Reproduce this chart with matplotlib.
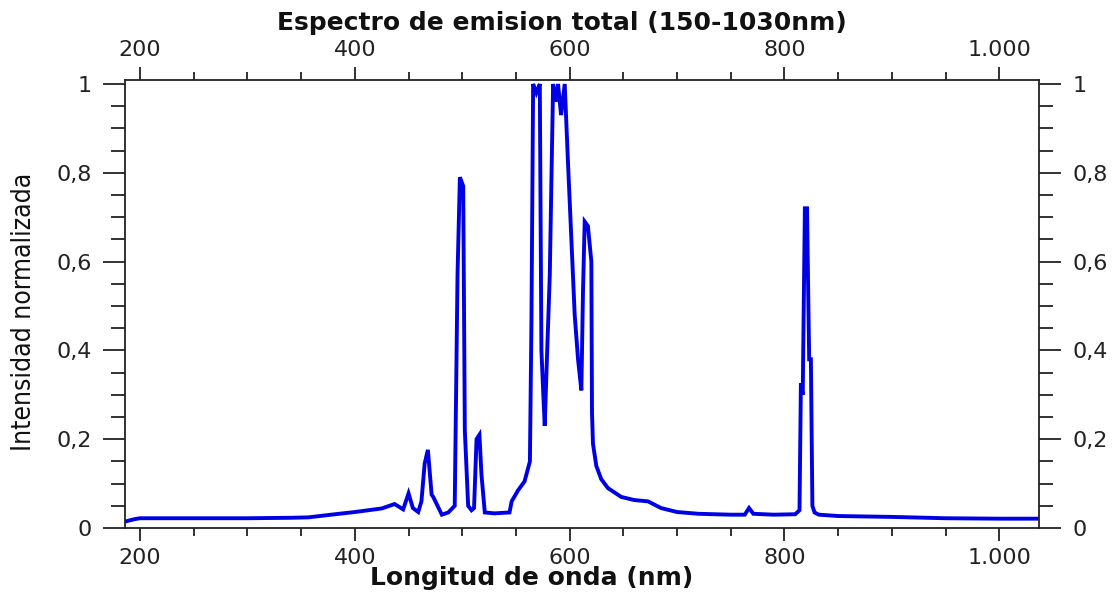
import matplotlib
matplotlib.use("Agg")
import matplotlib.pyplot as plt
from matplotlib.ticker import MultipleLocator, FuncFormatter

# longitud de onda (nm) e intensidad normalizada
wavelength = [187, 195, 200, 250, 300, 340, 357, 378, 400, 425, 437, 445, 450, 454,
              459, 462, 465, 468, 471.5, 473, 476, 481, 487, 493, 495.6, 497.8, 500.9,
              502.4, 505.5, 508.6, 511, 513.3, 516, 517.9, 521, 530, 544, 546, 552, 558,
              563, 564.4, 566, 569, 572.2, 573.7, 575.3, 576.8, 578.4, 581.5, 583, 584.6,
              587, 589.2, 592, 595.4, 598.5, 601.6, 604.7, 607.8, 610.9, 612.4, 614, 617,
              620.2, 620.8, 621.7, 624.8, 629.4, 635.6, 648, 660, 673, 685, 700, 720, 750,
              763, 767, 771, 790, 810, 814, 815.3, 817, 819, 821, 823, 824.6, 826, 828,
              832, 850, 900, 950, 1000, 1036]
intensity = [0.015, 0.02, 0.022, 0.022, 0.022, 0.023, 0.024, 0.03, 0.036, 0.044, 0.054,
             0.042, 0.078, 0.045, 0.036, 0.06, 0.145, 0.176, 0.075, 0.07, 0.055, 0.03,
             0.035, 0.05, 0.57, 0.79, 0.77, 0.22, 0.05, 0.04, 0.045, 0.2, 0.21, 0.12,
             0.035, 0.033, 0.035, 0.06, 0.085, 0.105, 0.15, 0.46, 1.0, 0.98, 1.0, 0.4,
             0.31, 0.23, 0.35, 0.57, 0.78, 1.0, 0.96, 1.0, 0.93, 1.0, 0.82, 0.65, 0.48,
             0.38, 0.31, 0.53, 0.69, 0.68, 0.6, 0.26, 0.19, 0.14, 0.11, 0.09, 0.07, 0.063,
             0.06, 0.045, 0.036, 0.032, 0.03, 0.03, 0.045, 0.032, 0.03, 0.031, 0.04, 0.326,
             0.3, 0.72, 0.72, 0.38, 0.38, 0.05, 0.035, 0.03, 0.027, 0.025, 0.022, 0.021,
             0.021]

title = "Espectro de emision total (150-1030nm)"
xlabel = "Longitud de onda (nm)"
ylabel = "Intensidad normalizada"


def fmt_x(v, pos):
    v = int(round(v))
    return "{:,}".format(v).replace(",", ".")


def fmt_y(v, pos):
    if abs(v - round(v)) < 1e-9:
        return str(int(round(v)))
    return ("%.1f" % v).replace(".", ",")


def main():
    plt.rcParams['font.family'] = ['DejaVu Sans']
    fig = plt.figure(figsize=(11.2, 5.93), dpi=100)
    ax = fig.add_axes([0.1116, 0.1096, 0.8161, 0.7555])

    ax.plot(wavelength, intensity, color='#0000e6', lw=2.8, solid_joinstyle='miter')
    ax.set_xlim(186, 1037)
    ax.set_ylim(0, 1.009)

    ax.xaxis.set_major_locator(MultipleLocator(200))
    ax.xaxis.set_minor_locator(MultipleLocator(50))
    ax.yaxis.set_major_locator(MultipleLocator(0.2))
    ax.yaxis.set_minor_locator(MultipleLocator(0.05))
    ax.xaxis.set_major_formatter(FuncFormatter(fmt_x))
    ax.yaxis.set_major_formatter(FuncFormatter(fmt_y))

    ax.tick_params(which='both', direction='out', top=True, right=True,
                   labeltop=True, labelright=True, colors='#222222', width=1.3,
                   labelsize=16)
    ax.tick_params(axis='x', which='major', length=9.5, pad=5)
    ax.tick_params(axis='x', which='minor', length=5.5)
    ax.tick_params(axis='y', which='major', length=16, pad=8)
    ax.tick_params(axis='y', which='minor', length=10)
    for s in ax.spines.values():
        s.set_linewidth(1.3)
        s.set_color('#222222')

    fig.text(0.502, 0.962, title, ha='center', va='center', fontsize=18,
             fontweight='bold', color='#111111')
    fig.text(0.475, 0.025, xlabel, ha='center', va='center', fontsize=18,
             fontweight='bold', color='#111111')
    fig.text(0.021, 0.474, ylabel, ha='center', va='center', rotation=90,
             fontsize=19, fontstretch='condensed', color='#111111',
             family=['DejaVu Sans'])

    fig.savefig('out.png', dpi=100)


if __name__ == '__main__':
    main()
